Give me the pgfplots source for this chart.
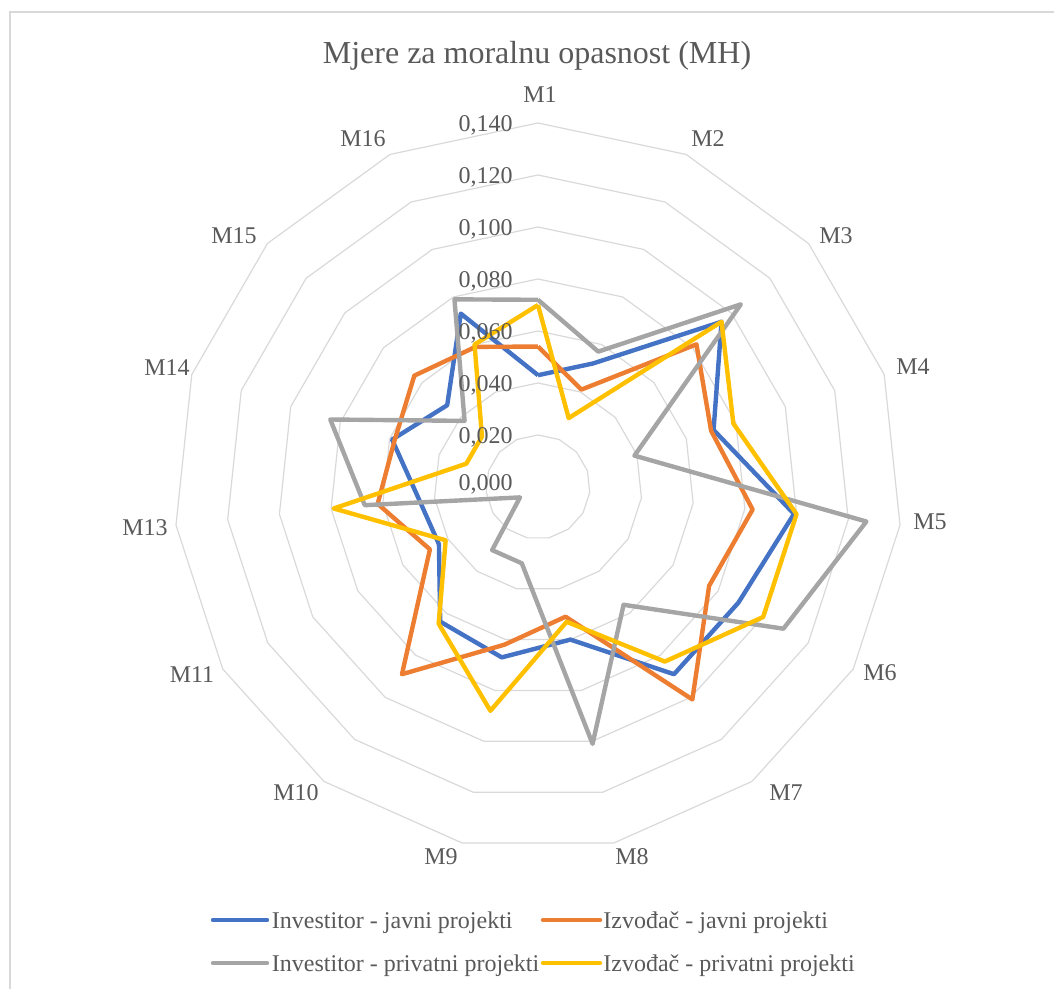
\documentclass[border=0pt]{standalone}
\usepackage{pgfplots}
\pgfplotsset{compat=1.18}
\usepackage{pgfplotstable}
\usepackage{fontspec}
\setmainfont{Liberation Serif}
\definecolor{cblue}{HTML}{4472C4}
\definecolor{corange}{HTML}{ED7D31}
\definecolor{cgray}{HTML}{A5A5A5}
\definecolor{cyellow}{HTML}{FFC000}
\definecolor{gridc}{HTML}{D9D9D9}
\definecolor{txt}{HTML}{595959}
\pgfplotstableread{
cat t   ij    zj    ip    zp
M1  0   0.043 0.054 0.072 0.070
M2  24  0.052 0.041 0.057 0.029
M3  48  0.095 0.082 0.105 0.095
M4  72  0.071 0.070 0.039 0.079
M5  96  0.099 0.083 0.127 0.100
M6  120 0.089 0.076 0.109 0.100
M7  144 0.089 0.101 0.056 0.083
M8  168 0.060 0.051 0.101 0.053
M9  192 0.067 0.062 0.030 0.088
M10 216 0.064 0.089 0.030 0.065
M11 240 0.044 0.048 0.008 0.041
M13 264 0.046 0.062 0.067 0.079
M14 288 0.059 0.058 0.084 0.029
M15 312 0.047 0.064 0.038 0.029
M16 336 0.073 0.059 0.079 0.060
M1  360 0.043 0.054 0.072 0.070
}\data
\begin{document}
\begin{tikzpicture}
\path[use as bounding box] (-269pt,-251pt) rectangle (258pt,243.5pt);
\draw[gridc, line width=0.6pt] (258pt,237.5pt) -- (-264pt,237.5pt) -- (-264pt,-252pt);
\begin{axis}[
  at={(0,0)}, anchor=origin,
  x=1300pt, y=1300pt,
  xmin=-0.14, xmax=0.14, ymin=-0.14, ymax=0.14,
  hide axis, clip=false,
]
\pgfplotsinvokeforeach{0.02,0.04,0.06,0.08,0.10,0.12,0.14}{
  \addplot[gridc, line width=0.6pt, line join=round, forget plot]
    table[x expr={#1*sin(\thisrow{t})}, y expr={#1*cos(\thisrow{t})}] {\data};
}
\addplot[cblue, line width=2.2pt, line join=round]
  table[x expr={\thisrow{ij}*sin(\thisrow{t})}, y expr={\thisrow{ij}*cos(\thisrow{t})}] {\data};
\addplot[corange, line width=2.2pt, line join=round]
  table[x expr={\thisrow{zj}*sin(\thisrow{t})}, y expr={\thisrow{zj}*cos(\thisrow{t})}] {\data};
\addplot[cgray, line width=2.2pt, line join=round]
  table[x expr={\thisrow{ip}*sin(\thisrow{t})}, y expr={\thisrow{ip}*cos(\thisrow{t})}] {\data};
\addplot[cyellow, line width=2.2pt, line join=round]
  table[x expr={\thisrow{zp}*sin(\thisrow{t})}, y expr={\thisrow{zp}*cos(\thisrow{t})}] {\data};
\end{axis}
% title
\node[anchor=base, text=txt, font=\fontsize{16}{19}\selectfont, inner sep=0pt] at (-0.5pt,211.75pt) {Mjere za moralnu opasnost (MH)};
% radial value labels
\begin{scope}[every node/.style={anchor=base east, text=txt, font=\fontsize{12}{14}\selectfont, inner sep=0pt}]
\node at (-12.5pt,-1.85pt) {0,000};
\node at (-12.5pt,21.8pt) {0,020};
\node at (-12.5pt,47.8pt) {0,040};
\node at (-12.5pt,73.8pt) {0,060};
\node at (-12.5pt,99.8pt) {0,080};
\node at (-12.5pt,125.8pt) {0,100};
\node at (-12.5pt,151.8pt) {0,120};
\node at (-12.5pt,177.8pt) {0,140};
\end{scope}
% category labels
\begin{scope}[every node/.style={anchor=center, text=txt, font=\fontsize{12}{14}\selectfont, inner sep=0pt}]
\node at (1pt,196pt) {M1};
\node at (85pt,174pt) {M2};
\node at (149pt,125.5pt) {M3};
\node at (187.5pt,60pt) {M4};
\node at (196pt,-17.5pt) {M5};
\node at (171pt,-93pt) {M6};
\node at (124pt,-153pt) {M7};
\node at (47pt,-185pt) {M8};
\node at (-48.5pt,-185pt) {M9};
\node at (-121pt,-153pt) {M10};
\node at (-173pt,-94pt) {M11};
\node at (-196.5pt,-20.5pt) {M13};
\node at (-185.5pt,59.5pt) {M14};
\node at (-152pt,125.5pt) {M15};
\node at (-87.5pt,174pt) {M16};
\end{scope}
% legend
\begin{scope}[every node/.style={anchor=base west, text=txt, font=\fontsize{12}{14}\selectfont, inner sep=0pt}]
\draw[cblue, line width=2.2pt, line cap=round] (-162.5pt,-216.5pt) -- (-135.5pt,-216.5pt);
\node at (-133.2pt,-220.5pt) {Investitor - javni projekti};
\draw[corange, line width=2.2pt, line cap=round] (2.5pt,-216.5pt) -- (31pt,-216.5pt);
\node at (32.5pt,-220.5pt) {Izvođač - javni projekti};
\draw[cgray, line width=2.2pt, line cap=round] (-162.5pt,-238pt) -- (-135.5pt,-238pt);
\node at (-133.2pt,-242pt) {Investitor - privatni projekti};
\draw[cyellow, line width=2.2pt, line cap=round] (2.5pt,-238pt) -- (31pt,-238pt);
\node at (32.5pt,-242pt) {Izvođač - privatni projekti};
\end{scope}
\end{tikzpicture}
\end{document}
